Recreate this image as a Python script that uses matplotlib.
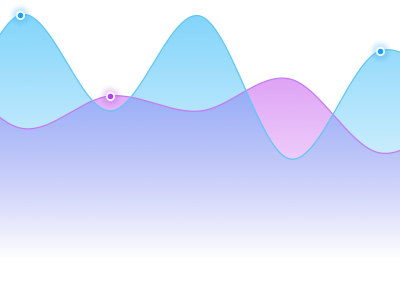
import numpy as np
import matplotlib
matplotlib.use("Agg")
import matplotlib.pyplot as plt
from matplotlib.patches import Polygon

# ---- data (hidden category axis, values on a hidden value axis) ----
categories = ["c0", "c1", "c2", "c3", "c4", "c5", "c6"]
series_blue = [95, 245, 149, 244, 101, 209, 160]
series_purple = [205, 132, 164, 149, 181, 107, 150]
blue_marked = [1, 5]
purple_marked = [2]

blue_line = "#62c6f5"
blue_fill = (40 / 255, 182 / 255, 248 / 255)
blue_dot = "#1aa0f2"
purple_line = "#c67af2"
purple_fill = (189 / 255, 66 / 255, 236 / 255)
purple_dot = "#b040f2"

fig = plt.figure(figsize=(4, 3), dpi=100)
ax = fig.add_axes([0, 0, 1, 1])
ax.set_xlim(70 / 90, 70 / 90 + 400 / 90)
ax.set_ylim(-40, 260)
ax.axis("off")


def catmull(xs, ys, n=60):
    xs = np.asarray(xs, float)
    ys = np.asarray(ys, float)
    px = np.concatenate([[2 * xs[0] - xs[1]], xs, [2 * xs[-1] - xs[-2]]])
    py = np.concatenate([[ys[0]], ys, [ys[-1]]])
    ox, oy = [], []
    for i in range(1, len(px) - 2):
        t = np.linspace(0, 1, n, endpoint=False)
        m0 = (py[i + 1] - py[i - 1]) / 2
        m1 = (py[i + 2] - py[i]) / 2
        h00 = 2 * t**3 - 3 * t**2 + 1
        h10 = t**3 - 2 * t**2 + t
        h01 = -2 * t**3 + 3 * t**2
        h11 = t**3 - t**2
        ox.append(px[i] + t * (px[i + 1] - px[i]))
        oy.append(h00 * py[i] + h10 * m0 + h01 * py[i + 1] + h11 * m1)
    ox.append([xs[-1]])
    oy.append([ys[-1]])
    return np.concatenate(ox), np.concatenate(oy)


def area(values, fill, a0, line, z):
    x = np.arange(len(values))
    sx, sy = catmull(x, values)
    top = sy.max()
    verts = np.column_stack([np.concatenate([[sx[0]], sx, [sx[-1]]]),
                             np.concatenate([[0], sy, [0]])])
    poly = Polygon(verts, closed=True, facecolor="none", edgecolor="none")
    ax.add_patch(poly)
    n = 256
    grad = np.zeros((n, 1, 4))
    grad[..., 0] = fill[0]
    grad[..., 1] = fill[1]
    grad[..., 2] = fill[2]
    grad[:, 0, 3] = np.linspace(a0, 0, n)
    im = ax.imshow(grad, extent=(sx[0], sx[-1], 0, top), aspect="auto",
                   origin="upper", zorder=z, interpolation="bilinear")
    im.set_clip_path(poly)
    ax.plot(sx, sy, color=line, lw=0.9, zorder=5)
    return sx, sy


area(series_purple, purple_fill, 0.55, purple_line, 1)
area(series_blue, blue_fill, 0.58, blue_line, 2)


def marker(xi, yv, color):
    for r, a in [(8, 0.05), (6.5, 0.07), (5, 0.09)]:
        ax.plot([xi], [yv], "o", ms=r * 2, color=color, alpha=a, mec="none", zorder=6)
    ax.plot([xi], [yv], "o", ms=5.2, color=color, mec="white", mew=1.2, zorder=7)


for i in blue_marked:
    marker(i, series_blue[i], blue_dot)
for i in purple_marked:
    marker(i, series_purple[i], purple_dot)

ax.set_xlim(70 / 90, 70 / 90 + 400 / 90)
ax.set_ylim(-40, 260)
fig.savefig("out.png", dpi=100)
